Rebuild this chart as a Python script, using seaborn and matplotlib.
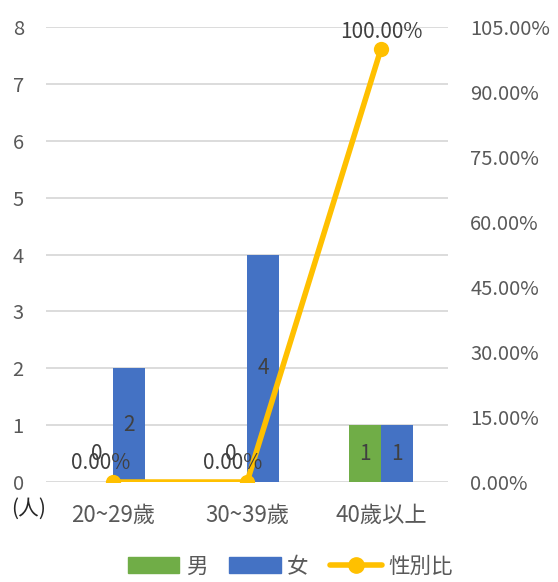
import numpy as np
import matplotlib
matplotlib.use("Agg")
import matplotlib.pyplot as plt
import matplotlib.patches as mpatches
import matplotlib.lines as mlines
import pandas as pd
import seaborn as sns

# dados
categorias = ["20~29歲", "30~39歲", "40歲以上"]
homens = [0, 0, 1]
mulheres = [2, 4, 1]
razao = [0.0, 0.0, 100.0]  # 性別比 (%)

verde = "#70AD47"
azul = "#4472C4"
amarelo = "#FFC000"
cinza = "#595959"
fs = 14.5

sns.set_theme(style="white")
plt.rcParams["font.family"] = ["Noto Sans CJK TC", "DejaVu Sans"]

df = pd.DataFrame({
    "cat": categorias * 2,
    "sexo": ["男"] * 3 + ["女"] * 3,
    "n": homens + mulheres,
})

fig = plt.figure(figsize=(5.58, 5.82), dpi=100)
ax = fig.add_axes([0.0824, 0.1718, 0.7206, 0.7818])

sns.barplot(data=df, x="cat", y="n", hue="sexo", palette=[verde, azul],
            width=0.48, ax=ax, legend=False, saturation=1, linewidth=0, zorder=2)

ax.set_ylim(0, 8)
ax.set_xlim(-0.5, 2.5)
ax.set_yticks(range(0, 9))
ax.yaxis.grid(True, color="#D9D9D9", linewidth=1.3, zorder=0)
ax.set_axisbelow(True)
ax.set_xlabel("")
ax.set_ylabel("")
for s in ax.spines.values():
    s.set_visible(False)
ax.tick_params(axis="both", length=0, labelsize=fs, colors=cinza)
ax.tick_params(axis="y", pad=16)
ax.tick_params(axis="x", pad=16, labelsize=16)

# rótulos das barras
for cont in ax.containers:
    for bar in cont:
        h = bar.get_height()
        xc = bar.get_x() + bar.get_width() / 2
        ax.text(xc, max(h / 2, 0.5), f"{int(h)}", ha="center", va="center",
                fontsize=15, color="#404040", zorder=5)

ax.text(0.0, -0.058, "(人)", transform=ax.transAxes, ha="right", va="center",
        fontsize=15, color="#262626")

# eixo secundário com a linha
ax2 = ax.twinx()
sns.lineplot(x=np.arange(len(categorias)), y=razao, ax=ax2, color=amarelo,
             linewidth=4, marker="o", markersize=11, markeredgewidth=0, zorder=4)
ax2.set_ylim(0, 105)
ax2.set_yticks(np.arange(0, 106, 15))
ax2.set_yticklabels([f"{v:.2f}%" for v in np.arange(0, 106, 15)])
for s in ax2.spines.values():
    s.set_visible(False)
ax2.tick_params(axis="y", length=0, labelsize=fs, colors=cinza, pad=16)

offs = [(-9, 14), (-10, 14), (0, 12)]
for i, v in enumerate(razao):
    ax2.annotate(f"{v:.2f}%", (i, v), xytext=offs[i], textcoords="offset points",
                 ha="center", va="center", fontsize=15, color="#404040", zorder=6)

handles = [
    mpatches.Patch(color=verde, label="男"),
    mpatches.Patch(color=azul, label="女"),
    mlines.Line2D([], [], color=amarelo, linewidth=4, marker="o", markersize=11,
                  label="性別比"),
]
fig.legend(handles=handles, loc="center", bbox_to_anchor=(0.52, 0.026), ncol=3,
           frameon=False, fontsize=15.5, labelcolor=cinza, handlelength=2.4,
           handleheight=0.75, columnspacing=1.0, handletextpad=0.3,
           borderpad=0.1)

fig.savefig("out.png", dpi=100)
